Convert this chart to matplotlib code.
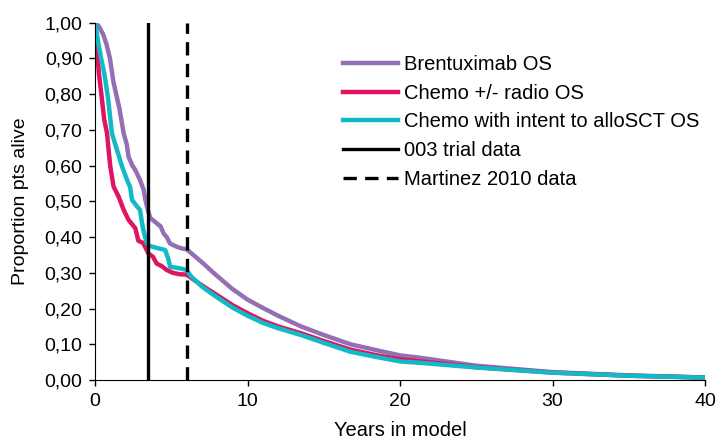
import matplotlib
matplotlib.use("Agg")
import matplotlib.pyplot as plt
from matplotlib.ticker import FuncFormatter

plt.rcParams['font.family'] = ['Liberation Sans', 'DejaVu Sans']

# Brentuximab OS (observed KM to ~6 yrs, then extrapolated)
brent_t = [0, 0.25, 0.55, 0.75, 0.98, 1.2, 1.44, 1.6, 1.88, 2.08, 2.2, 2.45, 2.64, 2.95,
           3.19, 3.3, 3.5, 3.63, 4.04, 4.3, 4.5, 4.7, 4.92, 5.36, 5.7, 6.0,
           7.0, 7.77, 9, 10, 11, 12, 13.5, 15, 16.75, 18.5, 20, 21.35, 25, 30, 35, 40]
brent_v = [1.0, 0.99, 0.966, 0.94, 0.90, 0.836, 0.79, 0.76, 0.69, 0.66, 0.625, 0.60, 0.588, 0.56,
           0.532, 0.504, 0.47, 0.453, 0.439, 0.43, 0.41, 0.40, 0.382, 0.373, 0.368, 0.366,
           0.33, 0.30, 0.255, 0.225, 0.202, 0.180, 0.150, 0.126, 0.100, 0.083, 0.069, 0.062,
           0.040, 0.022, 0.013, 0.007]

# Chemo +/- radio OS
chemo_t = [0, 0.11, 0.25, 0.46, 0.6, 0.79, 0.9, 1.0, 1.22, 1.55, 1.88, 2.2, 2.64, 2.84,
           3.17, 3.5, 3.8, 4.04, 4.4, 4.7, 5.1, 5.57, 6.0,
           7.0, 7.77, 9, 10, 11, 12, 13.5, 15, 16.75, 18.5, 20, 21.35, 25, 30, 35, 40]
chemo_v = [1.0, 0.94, 0.86, 0.784, 0.73, 0.69, 0.64, 0.598, 0.541, 0.513, 0.476, 0.448, 0.425, 0.39,
           0.383, 0.354, 0.345, 0.326, 0.318, 0.308, 0.30, 0.296, 0.295,
           0.265, 0.244, 0.21, 0.187, 0.166, 0.150, 0.131, 0.109, 0.085, 0.069, 0.058, 0.052,
           0.036, 0.021, 0.012, 0.007]

# Chemo with intent to alloSCT OS
allo_t = [0, 0.15, 0.4, 0.6, 0.85, 1.11, 1.44, 1.77, 2.1, 2.3, 2.43, 2.75, 2.95, 3.08,
          3.17, 3.39, 3.6, 4.2, 4.6, 4.8, 4.92, 5.57, 6.0,
          6.3, 7.0, 7.77, 9, 10, 11, 12, 13.5, 15, 16.75, 18.5, 20, 21.35, 25, 30, 35, 40]
allo_v = [1.0, 0.96, 0.90, 0.86, 0.79, 0.69, 0.644, 0.598, 0.56, 0.54, 0.504, 0.486, 0.476, 0.44,
          0.42, 0.383, 0.375, 0.368, 0.364, 0.34, 0.317, 0.3125, 0.308,
          0.29, 0.262, 0.238, 0.203, 0.180, 0.160, 0.145, 0.126, 0.104, 0.079, 0.064, 0.052,
          0.048, 0.035, 0.0205, 0.012, 0.0067]

trial_end = 3.45
martinez_end = 6.0

fig = plt.figure(figsize=(7.16, 4.41), dpi=100)
ax = fig.add_axes([0.1327, 0.1383, 0.852, 0.8102])

ax.plot(brent_t, brent_v, color='#9370B4', lw=3.2, label='Brentuximab OS')
ax.plot(chemo_t, chemo_v, color='#DF1462', lw=3.2, label='Chemo +/- radio OS')
ax.plot(allo_t, allo_v, color='#12BAC6', lw=3.2, label='Chemo with intent to alloSCT OS')
ax.plot([trial_end, trial_end], [0, 1], color='black', lw=2.4, label='003 trial data')
ax.plot([martinez_end, martinez_end], [0, 1], color='black', lw=2.4, dashes=(4, 2.5),
        label='Martinez 2010 data')

ax.set_xlim(0, 40)
ax.set_ylim(0, 1)
ax.set_xticks([0, 10, 20, 30, 40])
ax.set_yticks([i / 10 for i in range(11)])
ax.yaxis.set_major_formatter(FuncFormatter(lambda v, p: f"{v:.2f}".replace('.', ',')))
ax.tick_params(direction='out', length=4, width=1, labelsize=14, pad=5)
for s in ['top', 'right']:
    ax.spines[s].set_visible(False)

ax.set_xlabel('Years in model', fontsize=14.5, labelpad=8)
ax.set_ylabel('Proportion pts alive', fontsize=14, labelpad=11)

ax.legend(loc='upper left', bbox_to_anchor=(343 / 716, 1 - 55 / 441), bbox_transform=fig.transFigure,
          frameon=False, fontsize=14.5, handlelength=2.75, handletextpad=0.3,
          labelspacing=0.48, borderpad=0, borderaxespad=0)

fig.savefig('out.png', dpi=100)
